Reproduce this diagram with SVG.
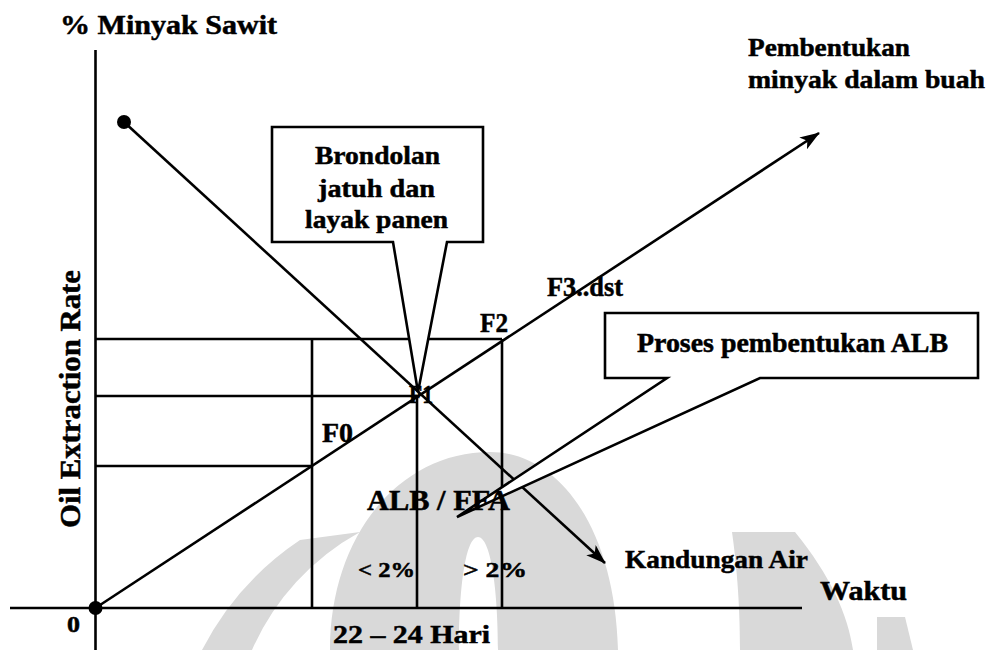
<svg xmlns="http://www.w3.org/2000/svg" width="989" height="650" viewBox="0 0 989 650">
  <style>
    .ln { stroke: #000; stroke-width: 2.6; fill: none; }
    .call { stroke: #000; stroke-width: 2.6; fill: #fff; stroke-linejoin: miter; }
    .t { font-family: "Liberation Serif", "Times New Roman", serif; font-weight: 700; fill: #000; stroke: #000; stroke-width: 0.5; }
    .wm { fill: #d9d9d9; }
  </style>
  <defs>
    <marker id="arrow" viewBox="0 0 20 14" markerWidth="20" markerHeight="14" refX="19" refY="7" orient="auto" markerUnits="userSpaceOnUse">
      <path d="M0,0 L20,7 L0,14 L5,7 Z" fill="#000"/>
    </marker>
  </defs>

  <rect width="989" height="650" fill="#fff"/>

  <!-- faint background emblem -->
  <g id="emblem">
    <path class="wm" d="M330,650 C330,535 400,452 490,452 C560,452 615,530 618,650 H498 C498,585 490,537 478,537 C466,537 459,585 459,650 Z"/>
    <path class="wm" d="M202,650 A295,295 0 0 1 300,540 L360,532 A249,249 0 0 0 252,650 Z"/>
    <path class="wm" d="M732,532 L795,532 C830,575 848,615 853,650 H740 C740,600 736,560 732,532 Z"/>
    <path class="wm" d="M877,617 L905,617 L913,650 H877 Z"/>
  </g>

  <!-- axes -->
  <g id="axes">
    <line class="ln" x1="95.5" y1="50" x2="95.5" y2="650"/>
    <line class="ln" x1="10" y1="608" x2="802" y2="608"/>
    <circle cx="95.5" cy="608" r="7" fill="#000"/>
  </g>

  <!-- connectors: reference grid lines and the two trend lines -->
  <g id="connectors">
    <line class="ln" x1="95.5" y1="339" x2="502" y2="339"/>
    <line class="ln" x1="95.5" y1="396" x2="417" y2="396"/>
    <line class="ln" x1="95.5" y1="466" x2="312" y2="466"/>
    <line class="ln" x1="312" y1="339" x2="312" y2="608"/>
    <line class="ln" x1="417" y1="396" x2="417" y2="608"/>
    <line class="ln" x1="502" y1="339" x2="502" y2="608"/>
    <line class="ln" x1="95.5" y1="608" x2="819" y2="133" marker-end="url(#arrow)"/>
    <line class="ln" x1="124" y1="122" x2="605" y2="563" marker-end="url(#arrow)"/>
    <circle cx="124" cy="122" r="7" fill="#000"/>
  </g>

  <!-- callout: fallen fruitlets -->
  <g id="callout-brondolan">
    <path class="call" d="M272,127 H483 V242 H447 L418,392 L393,242 H272 Z"/>
    <text class="t" x="315" y="164" font-size="26" textLength="125" lengthAdjust="spacingAndGlyphs">Brondolan</text>
    <text class="t" x="318" y="197" font-size="26" textLength="117" lengthAdjust="spacingAndGlyphs">jatuh dan</text>
    <text class="t" x="305" y="228" font-size="26" textLength="143" lengthAdjust="spacingAndGlyphs">layak panen</text>
  </g>

  <!-- callout: FFA formation -->
  <g id="callout-alb">
    <path class="call" d="M605,313 H978 V378 H760 L457,517 L667,378 H605 Z"/>
    <text class="t" x="637" y="352" font-size="27" textLength="311" lengthAdjust="spacingAndGlyphs">Proses pembentukan ALB</text>
  </g>

  <!-- labels -->
  <g id="label-y-title">
    <text class="t" x="60" y="34" font-size="28" textLength="217" lengthAdjust="spacingAndGlyphs">% Minyak Sawit</text>
  </g>
  <g id="label-y-axis">
    <text class="t" transform="translate(80,399) rotate(-90)" text-anchor="middle" font-size="30" textLength="258" lengthAdjust="spacingAndGlyphs">Oil Extraction Rate</text>
  </g>
  <g id="label-oil-formation">
    <text class="t" x="748" y="56" font-size="26" textLength="162" lengthAdjust="spacingAndGlyphs">Pembentukan</text>
    <text class="t" x="748" y="88" font-size="26" textLength="237" lengthAdjust="spacingAndGlyphs">minyak dalam buah</text>
  </g>
  <g id="label-f3">
    <text class="t" x="547" y="296" font-size="27" textLength="76" lengthAdjust="spacingAndGlyphs">F3..dst</text>
  </g>
  <g id="label-f2">
    <text class="t" x="480" y="332" font-size="27" textLength="28" lengthAdjust="spacingAndGlyphs">F2</text>
  </g>
  <g id="label-f1">
    <text class="t" x="409" y="403" font-size="26" textLength="24" lengthAdjust="spacingAndGlyphs">F1</text>
  </g>
  <g id="label-f0">
    <text class="t" x="322" y="442" font-size="27" textLength="31" lengthAdjust="spacingAndGlyphs">F0</text>
  </g>
  <g id="label-ffa">
    <text class="t" x="367" y="510" font-size="30" textLength="143" lengthAdjust="spacingAndGlyphs">ALB / FFA</text>
  </g>
  <g id="label-lt2">
    <text class="t" x="358" y="577" font-size="22" textLength="57" lengthAdjust="spacingAndGlyphs">&lt; 2%</text>
  </g>
  <g id="label-gt2">
    <text class="t" x="463" y="577" font-size="22" textLength="64" lengthAdjust="spacingAndGlyphs">&gt; 2%</text>
  </g>
  <g id="label-water">
    <text class="t" x="625" y="568" font-size="26" textLength="183" lengthAdjust="spacingAndGlyphs">Kandungan Air</text>
  </g>
  <g id="label-time">
    <text class="t" x="820" y="600" font-size="27" textLength="87" lengthAdjust="spacingAndGlyphs">Waktu</text>
  </g>
  <g id="label-days">
    <text class="t" x="333" y="643" font-size="26" textLength="157" lengthAdjust="spacingAndGlyphs">22 – 24 Hari</text>
  </g>
  <g id="label-origin">
    <text class="t" x="67" y="632" font-size="23" textLength="13" lengthAdjust="spacingAndGlyphs">0</text>
  </g>
</svg>
